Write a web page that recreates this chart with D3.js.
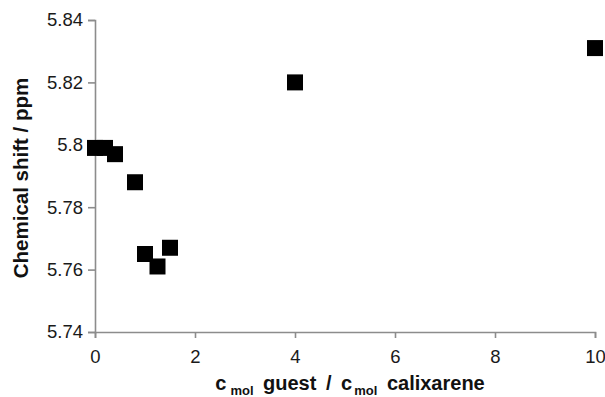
<!DOCTYPE html>
<html>
<head>
<meta charset="utf-8">
<script src="https://cdn.jsdelivr.net/npm/d3@7"></script>
<style>
  html, body { margin: 0; padding: 0; background: #fff; }
  svg { display: block; font-family: "Liberation Sans", Arial, sans-serif; }
</style>
</head>
<body>
<svg id="chart" width="605" height="397"></svg>
<script>
// Data
const ratio = [0, 0.2, 0.4, 0.8, 1.0, 1.25, 1.5, 4, 10];
const shift = [5.799, 5.799, 5.797, 5.788, 5.765, 5.761, 5.767, 5.820, 5.831];
const xTicks = [0, 2, 4, 6, 8, 10];
const yTicks = [5.74, 5.76, 5.78, 5.80, 5.82, 5.84];
const yTickLabels = ["5.74", "5.76", "5.78", "5.8", "5.82", "5.84"];

const svg = d3.select("#chart");
const x = d3.scaleLinear().domain([0, 10]).range([95, 595]);
const y = d3.scaleLinear().domain([5.74, 5.84]).range([332, 20]);
const axisColor = "#8c8c8c";
const font = "\"Liberation Sans\", Arial, sans-serif";

const xAxis = svg.append("g").attr("transform", `translate(0,${y(5.74)})`)
  .call(d3.axisBottom(x).tickValues(xTicks).tickSize(6).tickPadding(12).tickFormat(d3.format("d")));
const yAxis = svg.append("g").attr("transform", `translate(${x(0)},0)`)
  .call(d3.axisLeft(y).tickValues(yTicks).tickSize(7).tickPadding(5)
    .tickFormat((d, i) => yTickLabels[i]));

[xAxis, yAxis].forEach(g => {
  g.attr("font-size", null).attr("font-family", null);
  g.select(".domain").attr("stroke", axisColor).attr("stroke-width", 1.6);
  g.selectAll(".tick line").attr("stroke", axisColor).attr("stroke-width", 1.6);
  g.selectAll(".tick text").attr("fill", "#1a1a1a")
    .style("font-size", "18.5px").style("font-family", font);
});

// Markers
const s = 16;
svg.append("g").selectAll("rect").data(ratio.map((r, i) => [r, shift[i]]))
  .join("rect")
  .attr("x", d => x(d[0]) - s / 2)
  .attr("y", d => y(d[1]) - s / 2)
  .attr("width", s).attr("height", s)
  .attr("fill", "#000");

// Y title
svg.append("text")
  .attr("transform", `translate(28,178) rotate(-90)`)
  .attr("text-anchor", "middle")
  .style("font-size", "20.5px").style("font-family", font)
  .attr("font-weight", "bold").attr("fill", "#111")
  .text("Chemical shift / ppm");

// X title with subscripts
const xt = svg.append("text")
  .attr("x", 350).attr("y", 390)
  .attr("text-anchor", "middle")
  .style("font-size", "20px").style("font-family", font).style("word-spacing", "4px")
  .attr("font-weight", "bold").attr("fill", "#111");
xt.append("tspan").text("c");
xt.append("tspan").style("font-size", "13px").attr("dy", 5).attr("dx", 4).text("mol");
xt.append("tspan").attr("dy", -5).text(" guest / c");
xt.append("tspan").style("font-size", "13px").attr("dy", 5).attr("dx", 2).text("mol");
xt.append("tspan").attr("dy", -5).text(" calixarene");
</script>
</body>
</html>
